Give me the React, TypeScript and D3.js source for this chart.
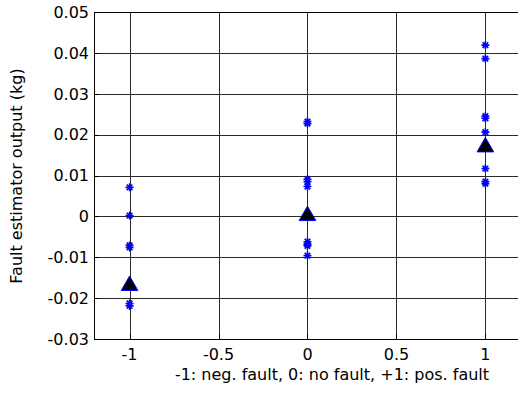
import React from "react";
import * as d3 from "d3";

const categories = [-1, 0, 1];
const negFaultValues = [0.0071, 0.0002, -0.0071, -0.0076, -0.0213, -0.0219];
const noFaultValues = [0.0232, 0.0227, 0.0091, 0.0085, 0.0073, -0.0062, -0.0068, -0.0072, -0.0096];
const posFaultValues = [0.0419, 0.0386, 0.0245, 0.0240, 0.0206, 0.0117, 0.0085, 0.0080];
const meanValues = [-0.0167, 0.0004, 0.0172];
const xTicks = [-1, -0.5, 0, 0.5, 1];
const yTicks = [-0.03, -0.02, -0.01, 0, 0.01, 0.02, 0.03, 0.04, 0.05];

const W = 518;
const H = 394;
const left = 94;
const top = 12;
const bottom = 339;

export default function App() {
  const x = d3.scaleLinear().domain([-1.2, 1.2]).range([left, left + 2.4 * 177.9]);
  const y = d3.scaleLinear().domain([-0.03, 0.05]).range([bottom, top]);
  const right = x(1.2);
  const groups = [negFaultValues, noFaultValues, posFaultValues];
  const font = "'DejaVu Sans', Verdana, sans-serif";
  const fs = 16;
  const star = (cx: number, cy: number, r: number) => {
    const segs: string[] = [];
    for (let k = 0; k < 4; k++) {
      const a = (k * Math.PI) / 4;
      const dx = r * Math.cos(a), dy = r * Math.sin(a);
      segs.push(`M${cx - dx},${cy - dy}L${cx + dx},${cy + dy}`);
    }
    return segs.join("");
  };
  const tri = d3.symbol().type(d3.symbolTriangle).size(120);
  const fmtY = (v: number) => (Math.abs(v) < 1e-9 ? "0" : v.toFixed(2));
  const fmtX = (v: number) => (v === 0 ? "0" : String(v));
  return (
    <svg width={W} height={H} style={{ position: "absolute", left: 0, top: 0, background: "#fff" }}>
      <rect x={0} y={0} width={W} height={H} fill="#fff" />
      {/* grid */}
      {yTicks.filter((t) => t > -0.03 && t < 0.05).map((t) => (
        <line key={"gy" + t} x1={left} x2={right} y1={Math.round(y(t)) + 0.5} y2={Math.round(y(t)) + 0.5} stroke="#2a2a2a" strokeWidth={1} />
      ))}
      {xTicks.map((t) => (
        <line key={"gx" + t} x1={Math.round(x(t)) + 0.5} x2={Math.round(x(t)) + 0.5} y1={top} y2={bottom} stroke="#2a2a2a" strokeWidth={1} />
      ))}
      {/* axes box */}
      <line x1={left + 0.5} x2={left + 0.5} y1={top} y2={bottom} stroke="#000" />
      <line x1={left} x2={right} y1={top + 0.5} y2={top + 0.5} stroke="#000" />
      <line x1={left} x2={right} y1={bottom + 0.5} y2={bottom + 0.5} stroke="#000" />
      {/* ticks */}
      {yTicks.map((t) => (
        <line key={"ty" + t} x1={left} x2={left + 5} y1={Math.round(y(t)) + 0.5} y2={Math.round(y(t)) + 0.5} stroke="#000" />
      ))}
      {xTicks.map((t) => (
        <line key={"tx" + t} x1={Math.round(x(t)) + 0.5} x2={Math.round(x(t)) + 0.5} y1={bottom} y2={bottom - 5} stroke="#000" />
      ))}
      {/* tick labels */}
      {yTicks.map((t) => (
        <text key={"ly" + t} x={left - 5} y={y(t)} dy="0.36em" textAnchor="end" fontFamily={font} fontSize={fs} fill="#000">
          {fmtY(t)}
        </text>
      ))}
      {xTicks.map((t) => (
        <text key={"lx" + t} x={x(t)} y={bottom + 21} textAnchor="middle" fontFamily={font} fontSize={fs} fill="#000">
          {fmtX(t)}
        </text>
      ))}
      {/* axis labels */}
      <text x={332} y={380} textAnchor="middle" fontFamily={font} fontSize={fs} fill="#000">
        -1: neg. fault, 0: no fault, +1: pos. fault
      </text>
      <text transform={`translate(22,${176}) rotate(-90)`} textAnchor="middle" fontFamily={font} fontSize={fs} fill="#000">
        Fault estimator output (kg)
      </text>
      {/* data stars */}
      {groups.map((vals, gi) =>
        vals.map((v, i) => (
          <path key={`s${gi}-${i}`} d={star(x(categories[gi]), y(v), 4)} stroke="#0000ff" strokeWidth={1.6} fill="none" />
        ))
      )}
      {/* mean triangles */}
      {meanValues.map((v, i) => (
        <path key={"m" + i} d={tri() as string} transform={`translate(${x(categories[i])},${y(v) + 1})`} fill="#000" stroke="#0000ff" strokeWidth={1} />
      ))}
    </svg>
  );
}
